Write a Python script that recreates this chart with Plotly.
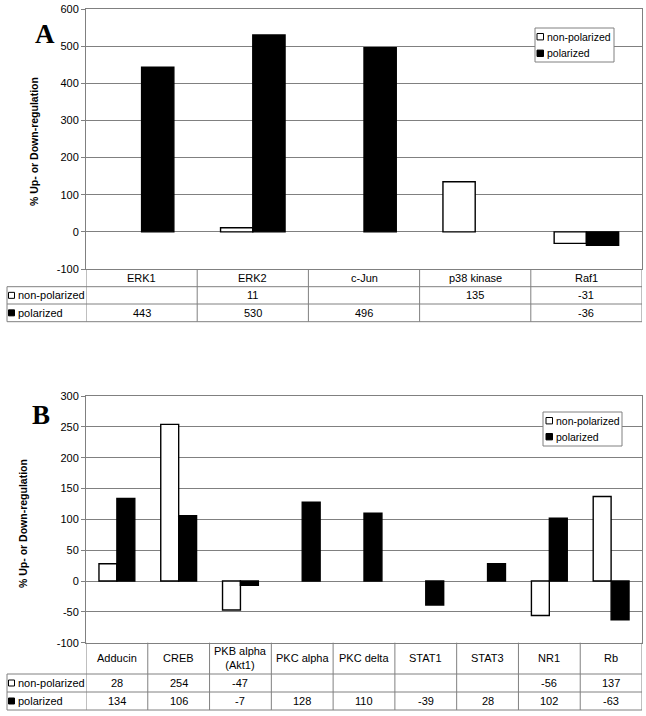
import plotly.graph_objects as go

W, H = 646, 716

# ---------------- data ----------------
A_cats = ["ERK1", "ERK2", "c-Jun", "p38 kinase", "Raf1"]
A_nonpol = [None, 11, None, 135, -31]
A_pol = [443, 530, 496, None, -36]

B_cats = ["Adducin", "CREB", "PKB alpha<br>(Akt1)", "PKC alpha", "PKC delta",
          "STAT1", "STAT3", "NR1", "Rb"]
B_nonpol = [28, 254, -47, None, None, None, None, -56, 137]
B_pol = [134, 106, -7, 128, 110, -39, 28, 102, -63]

series_names = ["non-polarized", "polarized"]
A_ticks = [-100, 0, 100, 200, 300, 400, 500, 600]
B_ticks = [-100, -50, 0, 50, 100, 150, 200, 250, 300]
y_title = "% Up- or Down-regulation"

GRAY = "#808080"
FONT = "Arial, Liberation Sans, sans-serif"


def px(x):
    return x / W


def py(y):
    return 1 - y / H


fig = go.Figure()

styles = [dict(color="white", line=dict(color="black", width=1.4)),
          dict(color="black", line=dict(color="black", width=1.4))]

for cats, vals_list, xa, ya in [(A_cats, [A_nonpol, A_pol], "x", "y"),
                                (B_cats, [B_nonpol, B_pol], "x2", "y2")]:
    for name, vals, st in zip(series_names, vals_list, styles):
        fig.add_trace(go.Bar(x=cats, y=vals, name=name, marker=st,
                             xaxis=xa, yaxis=ya, showlegend=False))

# panel geometry (pixels)
LEFT, RIGHT = 86, 642
A_top, A_bot = 9, 269
B_top, B_bot = 396, 642.7

axis_common = dict(showline=True, mirror=True, linecolor=GRAY, linewidth=1)
tickfont = dict(size=11, family=FONT, color="black")

fig.update_layout(
    width=W, height=H, margin=dict(l=0, r=0, t=0, b=0, autoexpand=False),
    paper_bgcolor="white", plot_bgcolor="white",
    barmode="group", bargap=0.42, bargroupgap=0,
    font=dict(family=FONT, color="black", size=11),
    xaxis=dict(domain=[px(LEFT), px(RIGHT)], anchor="y", type="category",
               range=[-0.5, len(A_cats) - 0.5], showticklabels=False,
               ticks="", showgrid=False, **axis_common),
    yaxis=dict(domain=[py(A_bot), py(A_top)], anchor="x", range=[-100, 600],
               tickvals=A_ticks, ticktext=[str(v) for v in A_ticks],
               showgrid=True, gridcolor=GRAY, gridwidth=1,
               zeroline=True, zerolinecolor=GRAY, zerolinewidth=1,
               ticks="outside", ticklen=4, tickcolor=GRAY,
               tickfont=tickfont, **axis_common),
    xaxis2=dict(domain=[px(LEFT), px(RIGHT)], anchor="y2", type="category",
                range=[-0.5, len(B_cats) - 0.5], showticklabels=False,
                ticks="", showgrid=False, **axis_common),
    yaxis2=dict(domain=[py(B_bot), py(B_top)], anchor="x2", range=[-100, 300],
                tickvals=B_ticks, ticktext=[str(v) for v in B_ticks],
                showgrid=True, gridcolor=GRAY, gridwidth=1,
                zeroline=True, zerolinecolor=GRAY, zerolinewidth=1,
                ticks="outside", ticklen=4, tickcolor=GRAY,
                tickfont=tickfont, **axis_common),
)

shapes = []
annotations = []


def ann(**kw):
    d = dict(showarrow=False, xanchor="center", yanchor="middle")
    d.update(kw)
    annotations.append(d)


def add_table(xref, cats, nonpol, pol, top, hdr_bot, r1_bot, r2_bot):
    tleft = 7
    for yy in (hdr_bot, r1_bot, r2_bot):
        shapes.append(dict(type="line", xref="paper", yref="paper",
                           x0=px(tleft), x1=px(RIGHT), y0=py(yy), y1=py(yy),
                           line=dict(color=GRAY, width=1)))
    for i in range(len(cats) + 1):
        shapes.append(dict(type="line", xref=xref, yref="paper",
                           x0=i - 0.5, x1=i - 0.5, y0=py(top), y1=py(r2_bot),
                           line=dict(color=GRAY, width=1)))
    shapes.append(dict(type="line", xref="paper", yref="paper",
                       x0=px(tleft), x1=px(tleft), y0=py(hdr_bot), y1=py(r2_bot),
                       line=dict(color=GRAY, width=1)))
    hy = (top + hdr_bot) / 2
    r1y = (hdr_bot + r1_bot) / 2
    r2y = (r1_bot + r2_bot) / 2
    for i, c in enumerate(cats):
        ann(xref=xref, yref="paper", x=i, y=py(hy), text=c, font=dict(size=11))
        if nonpol[i] is not None:
            ann(xref=xref, yref="paper", x=i, y=py(r1y), text=str(nonpol[i]),
                font=dict(size=11))
        if pol[i] is not None:
            ann(xref=xref, yref="paper", x=i, y=py(r2y), text=str(pol[i]),
                font=dict(size=11))
    for ry, name, fill in [(r1y, series_names[0], "white"), (r2y, series_names[1], "black")]:
        shapes.append(dict(type="rect", xref="paper", yref="paper",
                           x0=px(8.5), x1=px(14.5), y0=py(ry - 3), y1=py(ry + 3),
                           fillcolor=fill, line=dict(color="black", width=1)))
        ann(xref="paper", yref="paper", x=px(15.5), y=py(ry), text=name,
            xanchor="left", font=dict(size=11))


add_table("x", A_cats, A_nonpol, A_pol, A_bot, 286.7, 304, 321.7)
add_table("x2", B_cats, B_nonpol, B_pol, B_bot, 674, 692, 710)


def add_legend(x0, y0, x1, y1, y_items, sq_x, txt_x):
    shapes.append(dict(type="rect", xref="paper", yref="paper",
                       x0=px(x0), x1=px(x1), y0=py(y0), y1=py(y1),
                       fillcolor="white", line=dict(color=GRAY, width=1)))
    for yy, name, fill in zip(y_items, series_names, ["white", "black"]):
        shapes.append(dict(type="rect", xref="paper", yref="paper",
                           x0=px(sq_x), x1=px(sq_x + 6.5), y0=py(yy - 3.2), y1=py(yy + 3.2),
                           fillcolor=fill, line=dict(color="black", width=1)))
        ann(xref="paper", yref="paper", x=px(txt_x), y=py(yy), text=name,
            xanchor="left", font=dict(size=10.5))


add_legend(535, 28, 614, 62, [36.7, 53.3], 537, 545)
add_legend(543, 412, 622, 446, [420.7, 436.7], 546, 554)

SERIF = "Times New Roman, Liberation Serif, serif"
ann(xref="paper", yref="paper", x=px(45), y=py(34), text="<b>A</b>",
    font=dict(family=SERIF, size=27, color="black"))
ann(xref="paper", yref="paper", x=px(41), y=py(415), text="<b>B</b>",
    font=dict(family=SERIF, size=27, color="black"))

ann(xref="paper", yref="paper", x=px(34), y=py(142), text=f"<b>{y_title}</b>",
    textangle=-90, font=dict(size=10.5))
ann(xref="paper", yref="paper", x=px(23), y=py(524), text=f"<b>{y_title}</b>",
    textangle=-90, font=dict(size=10.5))

fig.update_layout(shapes=shapes, annotations=annotations)

fig.write_html("out.html",
               config={"displayModeBar": False},
               post_script="document.body.style.margin='0';"
                           "document.body.style.overflow='hidden';")
